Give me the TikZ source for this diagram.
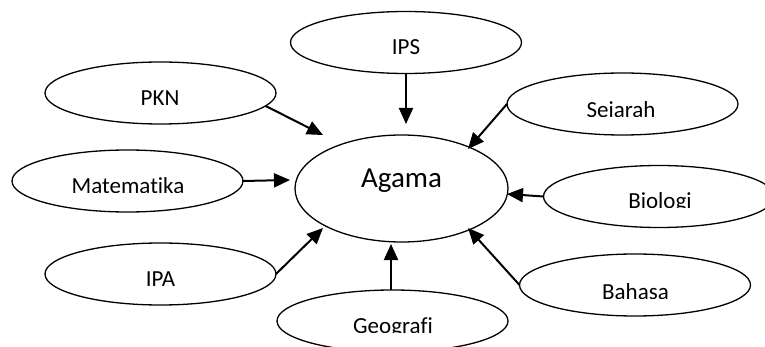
\documentclass[tikz,border=0pt]{standalone}
\usepackage{fontspec}
\setmainfont{Carlito}[Ligatures=NoCommon]
\usetikzlibrary{arrows.meta,shapes.geometric}

\tikzset{
  bubble/.style={ellipse, draw=black, line width=1.3pt, fill=white,
    minimum width=231pt, minimum height=62pt, inner sep=0pt, outer sep=0pt},
  hub/.style={bubble, minimum width=213pt, minimum height=107pt},
  lbl/.style={anchor=base, inner sep=0pt, font=\fontsize{23pt}{27pt}\selectfont},
  hublbl/.style={lbl, font=\fontsize{29pt}{33pt}\selectfont},
  link/.style={line width=2pt, -{Triangle[length=16pt,width=14pt]}}
}

\begin{document}
\begin{tikzpicture}[x=1pt,y=-1pt]
  \useasboundingbox (0,0) rectangle (765,347);
  \clip (0,0) rectangle (765,347);

  % subject bubbles
  \node[hub]    (agama)  at (401.5,188.5) {};
  \node[bubble] (ips)    at (406,42.5)  {};
  \node[bubble] (pkn)    at (160.5,93)  {};
  \node[bubble] (sej)    at (622.5,104) {};
  \node[bubble] (mat)    at (127.5,181) {};
  \node[bubble] (bio)    at (659,196.5) {};
  \node[bubble] (ipa)    at (160.5,274) {};
  \node[bubble] (bah)    at (635,285)   {};
  \node[bubble] (geo)    at (392.5,321) {};

  % labels
  \node[hublbl] (tAgama) at (401.5,188) {Agama};
  \node[lbl] (tIps) at (406,55)  {IPS};
  \node[lbl] (tPkn) at (160,106) {PKN};
  \node[lbl] (tIpa) at (160.5,286) {IPA};
  % labels whose text box cuts off the lower part of the glyphs
  \begin{scope}
    \clip (520,95) rectangle (725,117);
    \node[lbl] (tSej) at (621,118) {Seiarah};
  \end{scope}
  \begin{scope}
    \clip (20,170) rectangle (235,193);
    \node[lbl] (tMat) at (128,194) {Matematika};
  \end{scope}
  \begin{scope}
    \clip (560,185) rectangle (760,208);
    \node[lbl] (tBio) at (660,209) {Biologi};
  \end{scope}
  \begin{scope}
    \clip (530,275) rectangle (740,298);
    \node[lbl] (tBah) at (635.5,299) {Bahasa};
  \end{scope}
  \begin{scope}
    \clip (290,308) rectangle (500,332);
    \node[lbl] (tGeo) at (393,333) {Geografi};
  \end{scope}

  % arrow tips near the central bubble
  \coordinate (pknTip) at (323,135);
  \coordinate (matTip) at (290,180);
  \coordinate (ipaTip) at (323,228);
  \coordinate (ipsTip) at (406,124);
  \coordinate (sejTip) at (468,149);
  \coordinate (bioTip) at (507,194);
  \coordinate (bahTip) at (468,228);
  \coordinate (geoTip) at (391,244);

  % connectors
  \draw[link] (pkn.-7) -- (pknTip);
  \draw[link] (mat.east) -- (matTip);
  \draw[link] (ipa.east) -- (ipaTip);
  \draw[link] (ips.south) -- (ipsTip);
  \draw[link] (sej.west) -- (sejTip);
  \draw[link] (bio.west) -- (bioTip);
  \draw[link] (bah.west) -- (bahTip);
  \draw[link] (geo.north -| geoTip) -- (geoTip);
\end{tikzpicture}
\end{document}
